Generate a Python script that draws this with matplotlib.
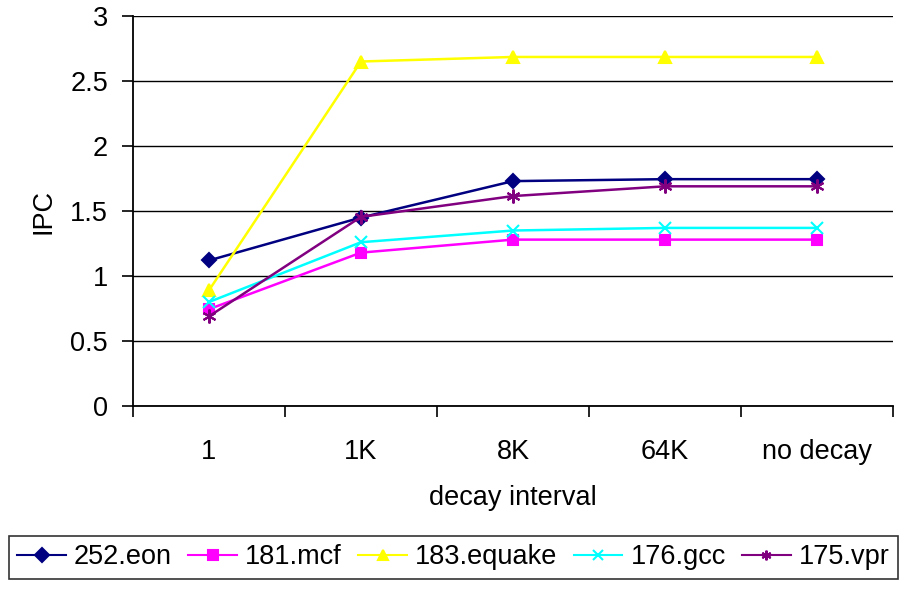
import matplotlib
matplotlib.use("Agg")
import matplotlib.pyplot as plt
import numpy as np

# %% data
categories = ["1", "1K", "8K", "64K", "no decay"]
eon = [1.12, 1.45, 1.73, 1.745, 1.745]
mcf = [0.745, 1.18, 1.28, 1.28, 1.28]
equake = [0.89, 2.65, 2.685, 2.685, 2.685]
gcc = [0.80, 1.26, 1.35, 1.37, 1.37]
vpr = [0.69, 1.455, 1.615, 1.69, 1.69]

series = [
    ("252.eon", eon, "#000080", "D", 7),
    ("181.mcf", mcf, "#ff00ff", "s", 7),
    ("183.equake", equake, "#ffff00", "^", 8),
    ("176.gcc", gcc, "#00ffff", "x", 9),
    ("175.vpr", vpr, "#800080", (6, 2, 0), 10),
]

plt.rcParams["font.family"] = ["Liberation Sans", "DejaVu Sans"]
fsize = 19.5

fig = plt.figure(figsize=(9.07, 5.93), dpi=100)
ax = fig.add_axes([0.1466, 0.3153, 0.8380, 0.6577])

xpos = np.arange(len(categories)) + 0.5
for label, vals, color, marker, msize in series:
    ax.plot(xpos, vals, color=color, marker=marker, markersize=msize,
            linewidth=1.8, markeredgewidth=1.5, label=label)

ax.set_xlim(0, len(categories))
ax.set_ylim(0, 3)
ax.set_yticks(np.arange(0, 3.01, 0.5))
ax.set_yticklabels(["0", "0.5", "1", "1.5", "2", "2.5", "3"])
ax.set_xticks(np.arange(0, len(categories) + 1))
ax.set_xticklabels([])
ax.set_xticks(xpos, minor=True)
ax.set_xticklabels(categories, minor=True)
ax.tick_params(axis="x", which="minor", length=0, pad=24, labelsize=fsize)
ax.tick_params(axis="x", which="major", direction="out", length=8, width=1.2)
ax.tick_params(axis="y", direction="out", length=8, width=1.2,
               labelsize=fsize, pad=10)

ax.yaxis.grid(True, color="black", linewidth=1.0)
ax.set_axisbelow(True)
for spine in ["top", "right"]:
    ax.spines[spine].set_visible(False)
ax.spines["left"].set_linewidth(1.3)
ax.spines["bottom"].set_linewidth(1.3)

ax.set_ylabel("IPC", fontsize=fsize, labelpad=10)
ax.set_xlabel("decay interval", fontsize=fsize, labelpad=14)

leg = fig.legend(loc="center", bbox_to_anchor=(0.5, 1 - 557.5 / 593), ncol=5,
                 fontsize=fsize, frameon=True, fancybox=False,
                 edgecolor="black", handlelength=1.8, handletextpad=0.3,
                 columnspacing=0.6, borderpad=0.3, borderaxespad=0)
leg.get_frame().set_linewidth(1.2)
for h in leg.legend_handles:
    h.set_markersize(7)
    h.set_linewidth(1.5)

fig.savefig("out.png", dpi=100)
